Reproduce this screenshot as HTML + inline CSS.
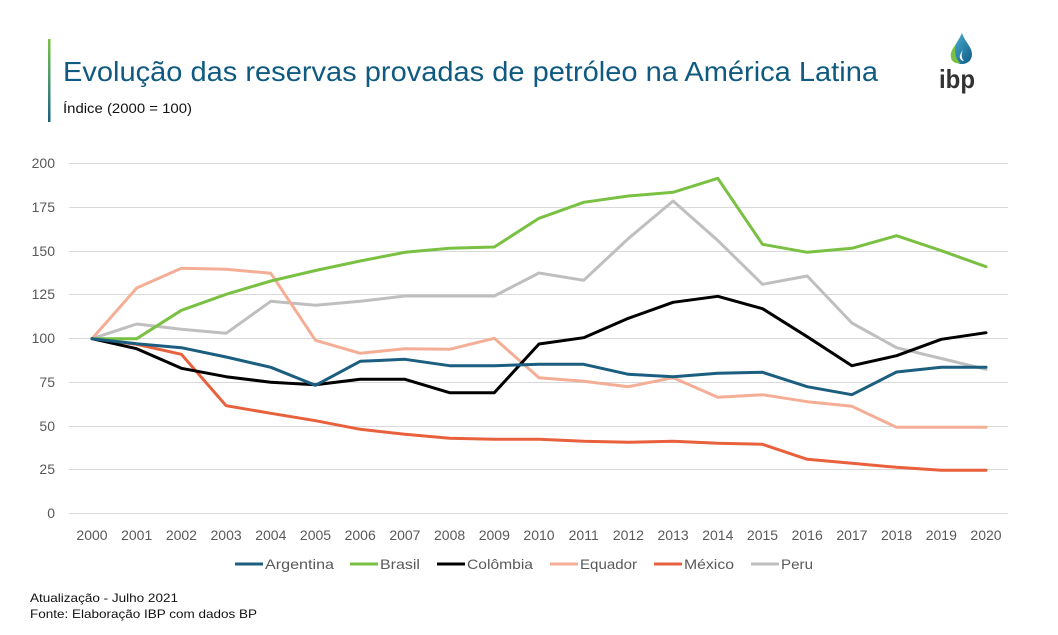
<!DOCTYPE html>
<html><head><meta charset="utf-8"><style>
html,body{margin:0;padding:0;background:#fff;}
svg{display:block;font-family:"Liberation Sans",sans-serif;}
</style></head><body>
<svg width="1058" height="635" viewBox="0 0 1058 635" xmlns="http://www.w3.org/2000/svg">
<defs>
<linearGradient id="vl" x1="0" y1="0" x2="0" y2="1">
<stop offset="0" stop-color="#7AC143"/><stop offset="0.45" stop-color="#4E9A6A"/><stop offset="1" stop-color="#1B5E80"/>
</linearGradient>
<linearGradient id="drop" x1="0" y1="0" x2="1" y2="1">
<stop offset="0" stop-color="#4FB3D9"/><stop offset="1" stop-color="#0E5A80"/>
</linearGradient>
</defs>
<rect x="48" y="39" width="2.5" height="83" fill="url(#vl)"/>
<text x="63" y="81" font-size="28" fill="#0F5A80" textLength="815" lengthAdjust="spacingAndGlyphs">Evolução das reservas provadas de petróleo na América Latina</text>
<text x="63" y="113" font-size="14" fill="#111" textLength="129" lengthAdjust="spacingAndGlyphs">Índice (2000 = 100)</text>
<!-- logo -->
<path d="M962 33 C958 42 952 48 952 55 C952 61 957 64 962 64 C968 64 972 60 972 54 C972 47 965 42 962 33 Z" fill="url(#drop)"/>
<path d="M956 44 C952 49 950 53 951 58 C952 62 956 64 960 63 C955 58 954 51 956 44 Z" fill="#7AC143"/>
<path d="M963 50 C961 54 961 58 964 61 C961 61 959 58 960 55 C961 53 962 51 963 50 Z" fill="#fff"/>
<text x="957" y="88" font-size="26" font-weight="bold" fill="#333" text-anchor="middle" textLength="36" lengthAdjust="spacingAndGlyphs">ibp</text>
<!-- grid -->
<g stroke="#D9D9D9" stroke-width="1">
<line x1="69" x2="1008" y1="163.5" y2="163.5"/>
<line x1="69" x2="1008" y1="207.5" y2="207.5"/>
<line x1="69" x2="1008" y1="251.5" y2="251.5"/>
<line x1="69" x2="1008" y1="294.5" y2="294.5"/>
<line x1="69" x2="1008" y1="338.5" y2="338.5"/>
<line x1="69" x2="1008" y1="382.5" y2="382.5"/>
<line x1="69" x2="1008" y1="426.5" y2="426.5"/>
<line x1="69" x2="1008" y1="469.5" y2="469.5"/>
<line x1="69" x2="1008" y1="513.5" y2="513.5"/>
</g>
<g font-size="14" fill="#595959" text-anchor="end">
<text x="55" y="168">200</text>
<text x="55" y="212">175</text>
<text x="55" y="256">150</text>
<text x="55" y="299">125</text>
<text x="55" y="343">100</text>
<text x="55" y="387">75</text>
<text x="55" y="431">50</text>
<text x="55" y="474">25</text>
<text x="55" y="518">0</text>
</g>
<g font-size="14" fill="#595959" text-anchor="middle">
<text x="92" y="540">2000</text><text x="136.7" y="540">2001</text><text x="181.4" y="540">2002</text><text x="226.1" y="540">2003</text><text x="270.8" y="540">2004</text><text x="315.5" y="540">2005</text><text x="360.2" y="540">2006</text><text x="404.9" y="540">2007</text><text x="449.6" y="540">2008</text><text x="494.3" y="540">2009</text><text x="539" y="540">2010</text><text x="583.7" y="540">2011</text><text x="628.4" y="540">2012</text><text x="673.1" y="540">2013</text><text x="717.8" y="540">2014</text><text x="762.5" y="540">2015</text><text x="807.2" y="540">2016</text><text x="851.9" y="540">2017</text><text x="896.6" y="540">2018</text><text x="941.3" y="540">2019</text><text x="986" y="540">2020</text>
</g>
<g fill="none" stroke-width="3" stroke-linejoin="round" stroke-linecap="round">
<polyline stroke="#BFBFBF" points="92,338.7 136.7,324 181.4,329.3 226.1,333.3 270.8,301.3 315.5,305.3 360.2,301.3 404.9,296 449.6,296 494.3,296 539,273 583.7,280.3 628.4,238.5 673.1,201 717.8,240.5 762.5,284.3 807.2,276 851.9,323 896.6,347.7 941.3,358.5 986,369.3"/>
<polyline stroke="#F4AE96" points="92,338.7 136.7,288 181.4,268.3 226.1,269.3 270.8,273.3 315.5,340.3 360.2,353.3 404.9,348.7 449.6,349.3 494.3,338.3 539,377.7 583.7,381.3 628.4,386.7 673.1,377.7 717.8,397.3 762.5,394.7 807.2,401.7 851.9,406.3 896.6,427.3 941.3,427.3 986,427.3"/>
<polyline stroke="#E8603C" points="92,338.7 136.7,344.3 181.4,354.3 226.1,405.7 270.8,413.3 315.5,420.7 360.2,429.3 404.9,434.3 449.6,438.3 494.3,439.3 539,439.3 583.7,441.3 628.4,442.3 673.1,441.3 717.8,443.3 762.5,444.3 807.2,459.3 851.9,463.3 896.6,467.3 941.3,470.3 986,470.3"/>
<polyline stroke="#000000" points="92,338.7 136.7,348.7 181.4,368.3 226.1,376.7 270.8,382.3 315.5,384.7 360.2,379.3 404.9,379.3 449.6,392.7 494.3,392.7 539,344 583.7,337.7 628.4,318.3 673.1,302.3 717.8,296.3 762.5,308.7 807.2,336.7 851.9,365.7 896.6,355.7 941.3,339.3 986,332.7"/>
<polyline stroke="#7AC143" points="92,338.7 136.7,338.7 181.4,310.3 226.1,294.3 270.8,281 315.5,270.5 360.2,261 404.9,252.3 449.6,248.3 494.3,247 539,218.3 583.7,202.3 628.4,196 673.1,192.3 717.8,178.3 762.5,244.3 807.2,252.3 851.9,248.3 896.6,235.7 941.3,250.7 986,266.7"/>
<polyline stroke="#1B5E80" points="92,338.7 136.7,343.7 181.4,347.7 226.1,357 270.8,367.3 315.5,385.3 360.2,361.3 404.9,359.3 449.6,365.7 494.3,365.7 539,364.3 583.7,364.3 628.4,374.3 673.1,376.7 717.8,373.3 762.5,372.3 807.2,386.7 851.9,394.7 896.6,372 941.3,367.3 986,367.3"/>
</g>
<!-- legend -->
<g stroke-width="3">
<line x1="235" x2="263" y1="564" y2="564" stroke="#1B5E80"/>
<line x1="350" x2="378" y1="564" y2="564" stroke="#7AC143"/>
<line x1="437" x2="465" y1="564" y2="564" stroke="#000"/>
<line x1="550" x2="578" y1="564" y2="564" stroke="#F4AE96"/>
<line x1="654" x2="682" y1="564" y2="564" stroke="#E8603C"/>
<line x1="751" x2="779" y1="564" y2="564" stroke="#BFBFBF"/>
</g>
<g font-size="14" fill="#595959">
<text x="265" y="569" textLength="69" lengthAdjust="spacingAndGlyphs">Argentina</text>
<text x="380" y="569" textLength="40" lengthAdjust="spacingAndGlyphs">Brasil</text>
<text x="467" y="569" textLength="66" lengthAdjust="spacingAndGlyphs">Colômbia</text>
<text x="580" y="569" textLength="57" lengthAdjust="spacingAndGlyphs">Equador</text>
<text x="684" y="569" textLength="50" lengthAdjust="spacingAndGlyphs">México</text>
<text x="781" y="569" textLength="32" lengthAdjust="spacingAndGlyphs">Peru</text>
</g>
<text x="30" y="602" font-size="12" fill="#111" textLength="148" lengthAdjust="spacingAndGlyphs">Atualização - Julho 2021</text>
<text x="30" y="618" font-size="12" fill="#111" textLength="227" lengthAdjust="spacingAndGlyphs">Fonte: Elaboração IBP com dados BP</text>
</svg>
</body></html>
